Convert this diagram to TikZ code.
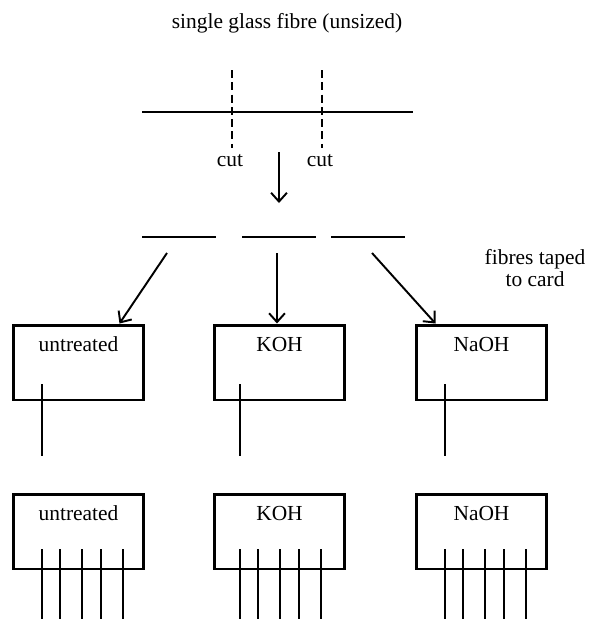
\documentclass[tikz,border=0pt]{standalone}
\usepackage{fontspec}
\setmainfont{Liberation Serif}
\usetikzlibrary{arrows.meta}

\begin{document}
\begin{tikzpicture}[x=0.02cm, y=-0.02cm,
    font=\fontsize{12.2}{14.6}\selectfont,
    card/.style={draw, line width=1.7pt, minimum width=2.62cm, minimum height=1.5cm, inner sep=0pt},
    cardtext/.style={anchor=base, inner sep=0pt},
    fibre/.style={line width=1.1pt},
    thinfibre/.style={line width=0.8pt},
    cutline/.style={line width=1.1pt, dash pattern=on 4.5pt off 2.5pt},
    feed/.style={line width=1.1pt, -{Straight Barb[length=5pt, width=9pt]}}
]
  \useasboundingbox (0,0) rectangle (589,619);

  % Titel
  \node (title) at (287,23) {single glass fibre (unsized)};

  % Faser mit den zwei Schnitten
  \draw[fibre] (142,112) -- (413,112);
  \draw[cutline] (232,70) -- (232,148);
  \draw[cutline] (322,70) -- (322,148);
  \node (cut1) at (230,161) {cut};
  \node (cut2) at (320,161) {cut};

  % Pfeil nach unten
  \coordinate (d1) at (279,152);
  \coordinate (d2) at (279,203);
  \draw[feed] (d1) -- (d2);

  % drei Faserstuecke
  \draw[fibre] (142,237) -- (216,237);
  \draw[fibre] (242,237) -- (316,237);
  \draw[fibre] (331,237) -- (405,237);
  \node[align=center, font=\fontsize{12.2}{12.8}\selectfont] (taped) at (535,268) {fibres taped\\to card};

  % Karten oben
  \node[card] (u1) at (78.5,362.5) {};
  \node[card] (k1) at (279.5,362.5) {};
  \node[card] (n1) at (481.5,362.5) {};
  \node[cardtext] (u1t) at ([yshift=-0.56cm]u1.north) {untreated};
  \node[cardtext] (k1t) at ([yshift=-0.56cm]k1.north) {KOH};
  \node[cardtext] (n1t) at ([yshift=-0.56cm]n1.north) {NaOH};

  % Pfeile zu den Karten
  \coordinate (a1) at (167,253);
  \coordinate (a2) at (277,253);
  \coordinate (a3) at (372,253);
  \draw[feed] (a1) -- ([xshift=-0.52cm]u1.north east);
  \draw[feed] (a2) -- (a2 |- k1.north);
  \draw[feed] (a3) -- ([xshift=0.42cm]n1.north west);

  % einzelne Faser je Karte
  \foreach \x in {42,240,445}
    \draw[thinfibre] (\x,384) -- (\x,456);

  % Karten unten
  \node[card] (u2) at (78.5,531.5) {};
  \node[card] (k2) at (279.5,531.5) {};
  \node[card] (n2) at (481.5,531.5) {};
  \node[cardtext] (u2t) at ([yshift=-0.56cm]u2.north) {untreated};
  \node[cardtext] (k2t) at ([yshift=-0.56cm]k2.north) {KOH};
  \node[cardtext] (n2t) at ([yshift=-0.56cm]n2.north) {NaOH};

  % fuenf Fasern je Karte
  \foreach \x in {42,240,445}
    \foreach \d in {0,18,40,59,81}
      \draw[fibre] (\x+\d,549) -- (\x+\d,619);

\end{tikzpicture}
\end{document}
